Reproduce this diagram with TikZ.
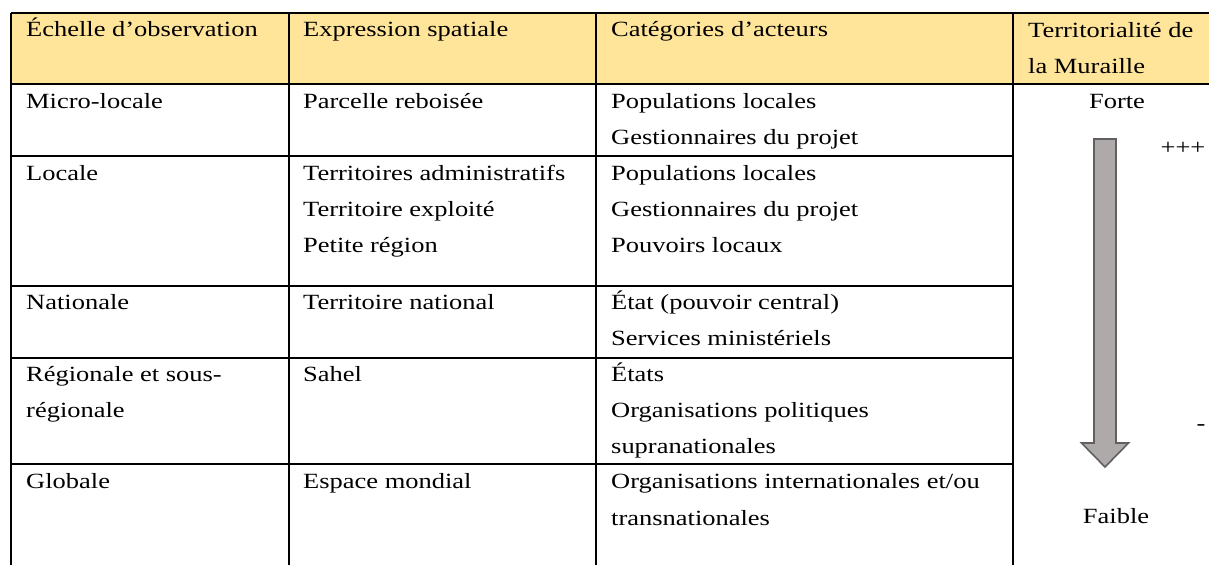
\documentclass[tikz,border=0pt]{standalone}
\usepackage{fontspec}
\setmainfont{Liberation Serif}[FakeStretch=1.22]
\begin{document}
\begin{tikzpicture}[x=1pt,y=-1pt,
  txt/.style={anchor=base west, inner sep=0pt, font=\fontsize{21.7}{26}\selectfont},
  ctxt/.style={anchor=base, inner sep=0pt, font=\fontsize{21.7}{26}\selectfont},
  rule/.style={line width=1.2pt, black},
  hdrfill/.style={fill=hdr},
  bigarrow/.style={fill=arrfill, draw=arrdraw, line width=1.6pt, line join=miter}]
\definecolor{hdr}{HTML}{FFE599}
\definecolor{arrfill}{HTML}{AEAAAA}
\definecolor{arrdraw}{HTML}{606060}
\useasboundingbox (0,0) rectangle (1209,565);
\fill[white] (0,0) rectangle (1209,565);
% header fill
\path[hdrfill] (11,13) rectangle (1209,84);
% horizontal rules
\draw[rule] (11,13) -- (1209,13);
\draw[rule] (11,84) -- (1209,84);
\draw[rule] (11,156) -- (1013,156);
\draw[rule] (11,286) -- (1013,286);
\draw[rule] (11,358) -- (1013,358);
\draw[rule] (11,464) -- (1013,464);
% vertical rules
\draw[rule] (11,13) -- (11,565);
\draw[rule] (289,13) -- (289,565);
\draw[rule] (596,13) -- (596,565);
\draw[rule] (1013,13) -- (1013,565);
% header
\node[txt] (h1) at (26,36) {Échelle d’observation};
\node[txt] (h2) at (303,36) {Expression spatiale};
\node[txt] (h3) at (611,36) {Catégories d’acteurs};
\node[txt] (h4a) at (1028,37) {Territorialité de};
\node[txt] (h4b) at (1028,73) {la Muraille};
% row 1
\node[txt] (r1c1) at (26,108) {Micro-locale};
\node[txt] (r1c2) at (303,108) {Parcelle reboisée};
\node[txt] (r1c3a) at (611,108) {Populations locales};
\node[txt] (r1c3b) at (611,144) {Gestionnaires du projet};
% row 2
\node[txt] (r2c1) at (26,180) {Locale};
\node[txt] (r2c2a) at (303,180) {Territoires administratifs};
\node[txt] (r2c2b) at (303,216) {Territoire exploité};
\node[txt] (r2c2c) at (303,252) {Petite région};
\node[txt] (r2c3a) at (611,180) {Populations locales};
\node[txt] (r2c3b) at (611,216) {Gestionnaires du projet};
\node[txt] (r2c3c) at (611,252) {Pouvoirs locaux};
% row 3
\node[txt] (r3c1) at (26,309) {Nationale};
\node[txt] (r3c2) at (303,309) {Territoire national};
\node[txt] (r3c3a) at (611,309) {État (pouvoir central)};
\node[txt] (r3c3b) at (611,345) {Services ministériels};
% row 4
\node[txt] (r4c1a) at (26,381) {Régionale et sous-};
\node[txt] (r4c1b) at (26,417) {régionale};
\node[txt] (r4c2) at (303,381) {Sahel};
\node[txt] (r4c3a) at (611,381) {États};
\node[txt] (r4c3b) at (611,417) {Organisations politiques};
\node[txt] (r4c3c) at (611,453) {supranationales};
% row 5
\node[txt] (r5c1) at (26,488) {Globale};
\node[txt] (r5c2) at (303,488) {Espace mondial};
\node[txt] (r5c3a) at (611,488) {Organisations internationales et/ou};
\node[txt] (r5c3b) at (611,525) {transnationales};
% right column
\node[ctxt] (forte) at (1117,108) {Forte};
\node[ctxt] (faible) at (1116,523) {Faible};
\node[ctxt] (plus) at (1183,154) {+++};
\node[ctxt] (minus) at (1201,430) {-};
\draw[bigarrow] (1094,139) -- (1116,139) -- (1116,443) -- (1128.5,443) -- (1105,467) -- (1081.5,443) -- (1094,443) -- cycle;
\end{tikzpicture}
\end{document}
